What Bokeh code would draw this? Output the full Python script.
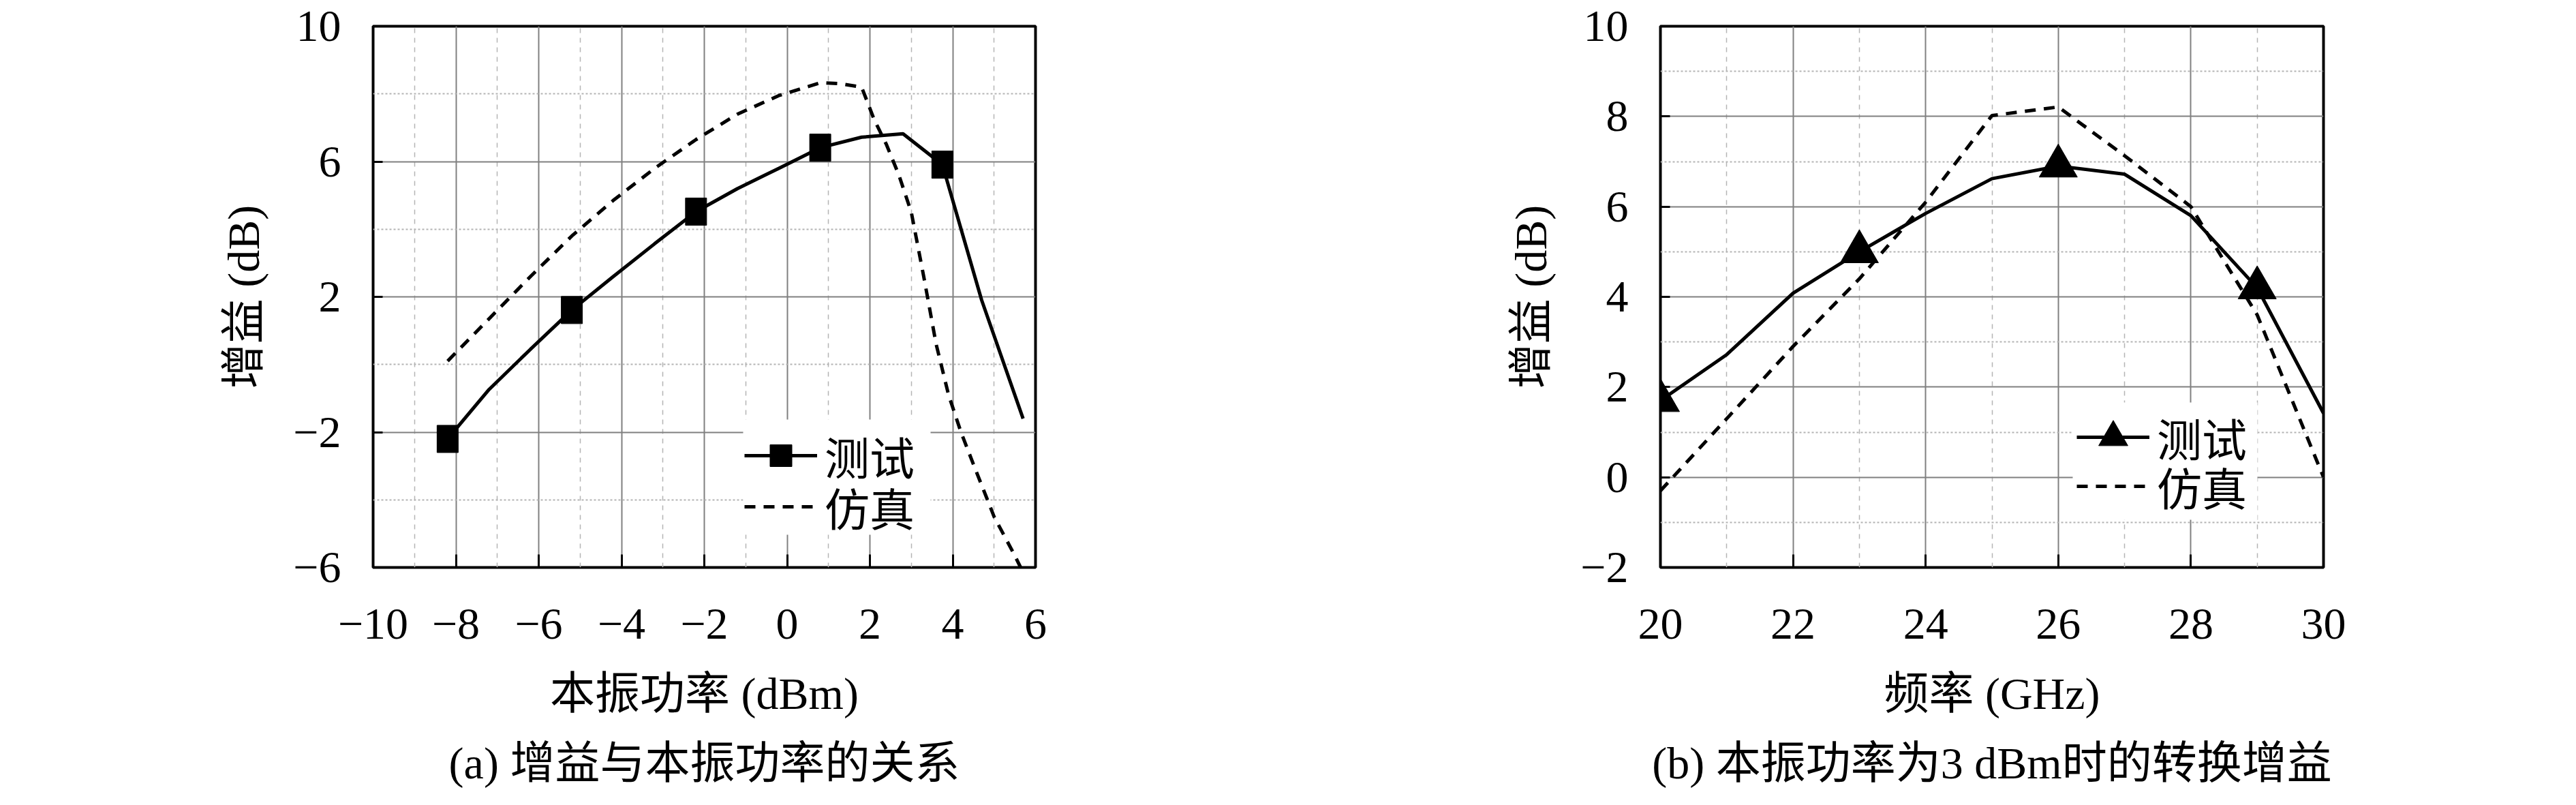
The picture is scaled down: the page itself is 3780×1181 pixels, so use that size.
from bokeh.plotting import figure
from bokeh.models import Range1d, FixedTicker, Legend, LegendItem, Title, BoxAnnotation
from bokeh.layouts import row
from bokeh.embed import file_html
from bokeh.resources import INLINE

# ---------------- data: (a) gain vs LO power ----------------
lo_power_meas = [-8.2, -7.2, -6.2, -5.2, -4.2, -3.2, -2.2, -1.2, -0.2, 0.8, 1.8, 2.8, 3.75, 4.7, 5.7]
gain_meas_a = [-2.2, -0.74, 0.45, 1.61, 2.6, 3.57, 4.52, 5.2, 5.8, 6.41, 6.72, 6.82, 5.91, 1.9, -1.6]
lo_power_mark = [-8.2, -5.2, -2.2, 0.8, 3.75]
gain_mark_a = [-2.2, 1.61, 4.52, 6.41, 5.91]
lo_power_sim = [-8.2, -7.2, -6.2, -5.2, -4.2, -3.2, -2.2, -1.2, -0.2, 0.8, 1.3, 1.8, 2.1, 2.4, 2.7,
                3.0, 3.3, 3.6, 3.9, 4.2, 4.5, 5.0, 5.5, 5.8]
gain_sim_a = [0.1, 1.35, 2.6, 3.8, 4.85, 5.8, 6.65, 7.4, 7.95, 8.33, 8.3, 8.2, 7.25, 6.5, 5.6,
              4.5, 2.6, 0.6, -0.9, -2.0, -2.95, -4.5, -5.65, -6.4]

xticks_a = [-10, -8, -6, -4, -2, 0, 2, 4, 6]
xtick_labels_a = ["\u221210", "\u22128", "\u22126", "\u22124", "\u22122", "0", "2", "4", "6"]
xminor_a = [-9, -7, -5, -3, -1, 1, 3, 5]
yticks_a = [-6, -2, 2, 6, 10]
ytick_labels_a = ["\u22126", "\u22122", "2", "6", "10"]
yminor_a = [-4, 0, 4, 8]

# ---------------- data: (b) conversion gain vs frequency ----------------
freq = [20, 21, 22, 23, 24, 25, 26, 27, 28, 29, 30]
gain_meas_b = [1.7, 2.72, 4.08, 5.0, 5.85, 6.62, 6.9, 6.72, 5.8, 4.2, 1.42]
freq_mark = [20, 23, 26, 29]
gain_mark_b = [1.7, 5.0, 6.9, 4.2]
gain_sim_b = [-0.3, 1.3, 2.9, 4.4, 6.1, 8.02, 8.21, 7.13, 6.0, 3.6, 0.0]

xticks_b = [20, 22, 24, 26, 28, 30]
xtick_labels_b = ["20", "22", "24", "26", "28", "30"]
xminor_b = [21, 23, 25, 27, 29]
yticks_b = [-2, 0, 2, 4, 6, 8, 10]
ytick_labels_b = ["\u22122", "0", "2", "4", "6", "8", "10"]
yminor_b = [-1, 1, 3, 5, 7, 9]

legend_labels = ["测试", "仿真"]
xlabel_a = "本振功率 (dBm)"
xlabel_b = "频率 (GHz)"
ylabel = "增益 (dB)"
caption_a = "(a) 增益与本振功率的关系"
caption_b = "(b) 本振功率为3 dBm时的转换增益"

FONT = "Liberation Serif, Noto Sans CJK SC"
FS = "66px"

# ---------------- layout constants (screen pixels) ----------------
TOP = 38          # frame top offset inside canvas
FH = 794          # frame height


def make_fig(xr, yr, xt, xtl, xm, yt, ytl, ym, fw, left, right, xlabel, caption):
    p = figure(frame_width=fw, frame_height=FH,
               min_border_left=left, min_border_right=right,
               min_border_top=TOP, min_border_bottom=1165 - TOP - FH,
               x_range=Range1d(*xr), y_range=Range1d(*yr),
               output_backend="svg", toolbar_location=None,
               background_fill_color="white", border_fill_color="white")
    p.outline_line_color = "black"
    p.outline_line_width = 4
    p.xaxis.ticker = FixedTicker(ticks=xt, minor_ticks=xm)
    p.yaxis.ticker = FixedTicker(ticks=yt, minor_ticks=ym)
    p.xaxis.major_label_overrides = {t: l for t, l in zip(xt, xtl)}
    p.yaxis.major_label_overrides = {t: l for t, l in zip(yt, ytl)}
    for ax in (p.xaxis[0], p.yaxis[0]):
        ax.axis_line_color = None
        ax.minor_tick_line_color = None
        ax.major_tick_out = 0
        ax.major_tick_line_color = "black"
        ax.major_tick_line_width = 3
        ax.major_label_text_font = FONT
        ax.major_label_text_font_size = FS
        ax.major_label_text_color = "black"
        ax.axis_label_text_font = FONT
        ax.axis_label_text_font_size = FS
        ax.axis_label_text_font_style = "normal"
        ax.axis_label_text_color = "black"
    p.xaxis.major_tick_in = 19
    p.yaxis.major_tick_in = 14
    p.xaxis.major_label_standoff = 57
    p.yaxis.major_label_standoff = 43
    p.xaxis.axis_label = xlabel
    p.yaxis.axis_label = ylabel
    p.xaxis.axis_label_standoff = 41
    p.yaxis.axis_label_standoff = 33
    p.xgrid.grid_line_color = "#808080"
    p.xgrid.grid_line_width = 2
    p.xgrid.minor_grid_line_color = "#b4b4b4"
    p.xgrid.minor_grid_line_width = 1.5
    p.xgrid.minor_grid_line_dash = "7 7"
    p.ygrid.grid_line_color = "#808080"
    p.ygrid.grid_line_width = 2
    p.ygrid.minor_grid_line_color = "#b4b4b4"
    p.ygrid.minor_grid_line_width = 2
    p.ygrid.minor_grid_line_dash = "3 3"
    p.add_layout(Title(text=caption, align="center", text_font=FONT, text_font_size=FS,
                       text_font_style="normal", text_color="black", standoff=49), "below")
    return p


def white_box(p, xr, yr, fw, px_left, px_right, py_top, py_bottom):
    """white patch behind the legend; given in pixels relative to the frame's top-left"""
    sx = (xr[1] - xr[0]) / fw
    sy = (yr[1] - yr[0]) / FH
    box = BoxAnnotation(left=xr[0] + px_left * sx, right=xr[0] + px_right * sx,
                        top=yr[1] - py_top * sy, bottom=yr[1] - py_bottom * sy,
                        fill_color="white", fill_alpha=1.0, line_color=None)
    p.add_layout(box)


def one_legend(p, label, renderers, x_off, y_center_from_bottom, gh, row_h):
    leg = Legend(items=[LegendItem(label=label, renderers=renderers)],
                 location=(x_off, int(round(y_center_from_bottom - row_h / 2))),
                 glyph_width=107, glyph_height=gh, spacing=0,
                 padding=0, margin=0, label_standoff=11,
                 label_text_font=FONT, label_text_font_size=FS, label_text_color="black",
                 background_fill_alpha=0.0, border_line_color=None)
    p.add_layout(leg)


# ---------------- (a) ----------------
XR_A, YR_A = (-10, 6), (-6, 10)
pa = make_fig(XR_A, YR_A, xticks_a, xtick_labels_a, xminor_a,
              yticks_a, ytick_labels_a, yminor_a, 972, 547, 361, xlabel_a, caption_a)
la_meas = pa.line(lo_power_meas, gain_meas_a, line_color="black", line_width=5)
pa.rect(lo_power_mark, gain_mark_a, width=31, height=40, width_units="screen",
        height_units="screen", fill_color="black", line_color="black")
la_mark = pa.scatter(lo_power_mark, gain_mark_a, marker="square", size=0,
                     fill_color="black", line_color="black")
la_sim = pa.line(lo_power_sim, gain_sim_a, line_color="black", line_width=5, line_dash="16 12")
white_box(pa, XR_A, YR_A, 972, 543, 818, 623 - 46, 792 - 46)
one_legend(pa, legend_labels[0], [la_meas, la_mark], 545, 840 - 677, 80, 94)
one_legend(pa, legend_labels[1], [la_sim], 545, 840 - 752, 80, 94)

# ---------------- (b) ----------------
XR_B, YR_B = (20, 30), (-2, 10)
pb = make_fig(XR_B, YR_B, xticks_b, xtick_labels_b, xminor_b,
              yticks_b, ytick_labels_b, yminor_b, 973, 556, 355, xlabel_b, caption_b)
lb_meas = pb.line(freq, gain_meas_b, line_color="black", line_width=5)
lb_mark = pb.scatter(freq_mark, gain_mark_b, marker="triangle", size=56,
                     fill_color="black", line_color="black")
lb_sim = pb.line(freq, gain_sim_b, line_color="black", line_width=5, line_dash="16 12")
white_box(pb, XR_B, YR_B, 973, 605, 876, 598 - 46, 770 - 46)
one_legend(pb, legend_labels[0], [lb_meas, lb_mark], 611, 840 - 649, 112, 112)
one_legend(pb, legend_labels[1], [lb_sim], 611, 840 - 722, 80, 94)

layout = row(pa, pb)
open("out.html", "w").write(file_html(layout, INLINE))
